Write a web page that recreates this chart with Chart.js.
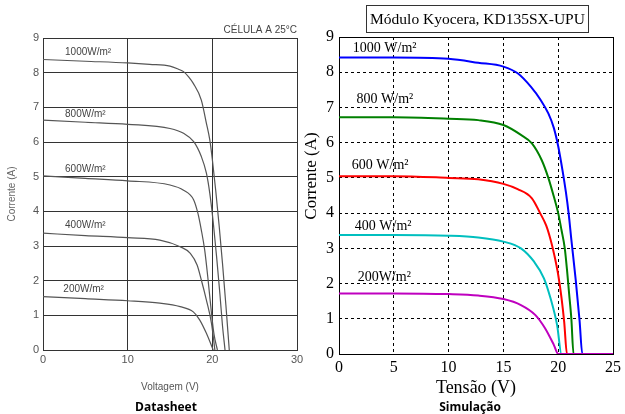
<!DOCTYPE html>
<html>
<head>
<meta charset="utf-8">
<script src="https://cdn.jsdelivr.net/npm/chart.js@4.4.0/dist/chart.umd.min.js"></script>
<style>
  body { margin: 0; background: #fff; }
  #wrap { position: relative; width: 625px; height: 414px; overflow: hidden; }
  #dsChart { position: absolute; left: 0; top: 0; }
  #simChart { position: absolute; left: 300px; top: 0; }
  .caption { position: absolute; top: 398px; font: bold 12px "Open Sans", sans-serif; color: #000; text-align: center; width: 120px; }
  #simTitle { position: absolute; left: 366px; top: 5px; width: 221px; height: 26px; border: 1px solid #333; white-space: nowrap;
              font: 15.5px "Liberation Serif", serif; line-height: 26px; text-align: center; color: #000; }
</style>
</head>
<body>
<div id="wrap">
  <canvas id="dsChart" width="312" height="414"></canvas>
  <canvas id="simChart" width="325" height="414"></canvas>
  <div id="simTitle">Módulo Kyocera, KD135SX-UPU</div>
  <div class="caption" style="left:106px">Datasheet</div>
  <div class="caption" style="left:410px">Simulação</div>
</div>
<script>
// Datasheet curves (Voltagem V, Corrente A)
const ds1000V = [0, 5, 10, 12.6, 15, 16, 16.6, 17.2, 17.75, 18.7, 19.3, 19.7, 20.0, 20.4, 20.8, 21.2, 21.6, 22.0];
const ds1000I = [8.38, 8.33, 8.28, 8.24, 8.19, 8.1, 8.03, 7.88, 7.69, 7.21, 6.54, 6.06, 5.5, 4.6, 3.6, 2.5, 1.3, 0];
const ds800V = [0, 5, 10, 15, 16.6, 17.8, 18.7, 19.3, 19.7, 20.1, 20.5, 20.9, 21.2, 21.5];
const ds800I = [6.63, 6.57, 6.51, 6.39, 6.25, 6.01, 5.58, 5.1, 4.52, 3.7, 2.7, 1.6, 0.7, 0];
const ds600V = [0, 5, 10, 15, 16.6, 17.8, 18.3, 18.7, 19.1, 19.5, 19.9, 20.2, 20.6];
const ds600I = [5.02, 4.95, 4.88, 4.76, 4.61, 4.33, 3.94, 3.46, 2.88, 2.02, 1.06, 0.45, 0];
const ds400V = [0, 5, 10, 13.8, 16.2, 17.4, 18.2, 18.7, 19.3, 19.9, 20.3];
const ds400I = [3.37, 3.3, 3.24, 3.17, 2.98, 2.79, 2.45, 2.02, 1.44, 0.77, 0];
const ds200V = [0, 5, 10, 13.8, 16.2, 17.75, 18.5, 19.3, 20.1];
const ds200I = [1.54, 1.48, 1.42, 1.35, 1.25, 1.1, 0.87, 0.48, 0];

// Simulação curves (Tensão V, Corrente A)
const sim1000V = [0, 5, 10, 12.7, 15, 16.3, 17.5, 18.4, 19.1, 19.6, 20.0, 20.4, 20.7, 20.95, 21.2, 21.6, 21.95, 22.2, 25];
const sim1000I = [8.42, 8.42, 8.38, 8.27, 8.16, 7.97, 7.59, 7.21, 6.83, 6.42, 5.9, 5.2, 4.6, 4.0, 3.25, 2.1, 0.95, 0, 0];
const sim800V = [0, 5, 10, 12.7, 15, 16.6, 17.6, 18.5, 19.1, 19.6, 20.0, 20.3, 20.6, 20.8, 21.0, 21.2, 21.4, 25];
const sim800I = [6.72, 6.72, 6.68, 6.64, 6.5, 6.22, 5.98, 5.5, 5.0, 4.47, 4.0, 3.52, 3.0, 2.4, 1.7, 1.0, 0, 0];
const sim600V = [0, 5, 10, 12.7, 15, 16.3, 17.6, 18.35, 18.9, 19.3, 19.65, 20.0, 20.3, 20.55, 20.8, 25];
const sim600I = [5.05, 5.05, 5.0, 4.96, 4.83, 4.68, 4.42, 4.0, 3.65, 3.25, 2.8, 2.25, 1.6, 0.9, 0, 0];
const sim400V = [0, 5, 10, 12.7, 15, 16.6, 17.8, 18.7, 19.3, 19.9, 20.3, 25];
const sim400I = [3.38, 3.38, 3.36, 3.31, 3.19, 3.0, 2.62, 2.15, 1.58, 0.82, 0, 0];
const sim200V = [0, 5, 10, 12.7, 15, 16.6, 17.9, 18.8, 19.6, 20.0, 25];
const sim200I = [1.72, 1.72, 1.70, 1.66, 1.56, 1.39, 1.11, 0.73, 0.26, 0, 0];

const irradLabels = ['1000', '800', '600', '400', '200'];
const simColors = ['#0000ff', '#008000', '#ff0000', '#00bfbf', '#bf00bf'];

function pts(vs, is) {
    return vs.map((v, k) => ({ x: v, y: is[k] }));
}

// desenha moldura e textos livres / rótulos das curvas
const extrasPlugin = {
    id: 'extras',
    beforeDatasetsDraw(chart, args, opts) {
        const a = chart.chartArea;
        const ctx = chart.ctx;
        ctx.save();
        ctx.strokeStyle = opts.frameColor;
        ctx.lineWidth = 1;
        ctx.strokeRect(Math.round(a.left) + 0.5, Math.round(a.top) + 0.5,
            Math.round(a.right - a.left), Math.round(a.bottom - a.top));
        ctx.restore();
    },
    afterDraw(chart, args, opts) {
        const ctx = chart.ctx;
        const xs = chart.scales.x, ys = chart.scales.y;
        ctx.save();
        ctx.textBaseline = 'middle';
        (opts.curveLabels || []).forEach(l => {
            ctx.font = opts.labelFont;
            ctx.fillStyle = opts.labelColor;
            ctx.textAlign = 'left';
            ctx.fillText(l.text, xs.getPixelForValue(l.v), ys.getPixelForValue(l.i));
        });
        (opts.texts || []).forEach(t => {
            ctx.save();
            ctx.font = t.font;
            ctx.fillStyle = t.color;
            ctx.textAlign = t.align || 'center';
            ctx.translate(t.x, t.y);
            if (t.rotate) ctx.rotate(t.rotate);
            ctx.fillText(t.text, 0, 0);
            ctx.restore();
        });
        ctx.restore();
    }
};

// Gráfico Datasheet
const dsSeries = [[ds1000V, ds1000I], [ds800V, ds800I], [ds600V, ds600I], [ds400V, ds400I], [ds200V, ds200I]];
new Chart(document.getElementById('dsChart'), {
    type: 'line',
    data: {
        datasets: dsSeries.map((s, k) => ({
            label: irradLabels[k] + 'W/m²',
            data: pts(s[0], s[1]),
            borderColor: '#555',
            borderWidth: 1.2,
            pointRadius: 0,
            cubicInterpolationMode: 'monotone'
        }))
    },
    options: {
        responsive: false,
        animation: false,
        layout: { padding: { top: 38, right: 15, left: 0, bottom: 0 } },
        plugins: {
            legend: { display: false },
            tooltip: { enabled: false },
            extras: {
                frameColor: '#333',
                labelFont: '10px "Liberation Sans", sans-serif',
                labelColor: '#444',
                curveLabels: [
                    { text: '1000W/m²', v: 2.6, i: 8.6 },
                    { text: '800W/m²', v: 2.6, i: 6.8 },
                    { text: '600W/m²', v: 2.6, i: 5.22 },
                    { text: '400W/m²', v: 2.6, i: 3.6 },
                    { text: '200W/m²', v: 2.4, i: 1.76 }
                ],
                texts: [
                    { text: 'CÉLULA A 25°C', x: 297, y: 30, align: 'right', font: '10px "Liberation Sans", sans-serif', color: '#444' }
                ]
            }
        },
        scales: {
            x: {
                type: 'linear', min: 0, max: 30,
                ticks: { stepSize: 10, color: '#555', padding: 3, maxRotation: 0, font: { family: 'Liberation Sans', size: 11 } },
                grid: { color: '#333', drawTicks: false },
                border: { display: false },
                title: { display: true, text: 'Voltagem (V)', color: '#555', font: { family: 'Liberation Sans', size: 10 }, padding: { top: 0, bottom: 21 } },
                afterFit: s => { s.height = 64; }
            },
            y: {
                type: 'linear', min: 0, max: 9,
                ticks: { stepSize: 1, color: '#555', padding: 4, font: { family: 'Liberation Sans', size: 11 } },
                grid: { color: '#333', drawTicks: false },
                border: { display: false },
                title: { display: true, text: 'Corrente (A)', color: '#666', font: { family: 'Liberation Sans', size: 10 }, padding: { top: 6, bottom: 0 } },
                afterFit: s => { s.width = 43; }
            }
        }
    },
    plugins: [extrasPlugin]
});

// Gráfico Simulação
const simSeries = [[sim1000V, sim1000I], [sim800V, sim800I], [sim600V, sim600I], [sim400V, sim400I], [sim200V, sim200I]];
new Chart(document.getElementById('simChart'), {
    type: 'line',
    data: {
        datasets: simSeries.map((s, k) => ({
            label: irradLabels[k] + ' W/m²',
            data: pts(s[0], s[1]),
            borderColor: simColors[k],
            borderWidth: 2,
            pointRadius: 0,
            order: 4 - k,
            cubicInterpolationMode: 'monotone'
        }))
    },
    options: {
        responsive: false,
        animation: false,
        layout: { padding: { top: 37, right: 8, left: 0, bottom: 0 } },
        plugins: {
            legend: { display: false },
            tooltip: { enabled: false },
            extras: {
                frameColor: '#000',
                labelFont: '14px "Liberation Serif", serif',
                labelColor: '#000',
                curveLabels: [
                    { text: '1000 W/m²', v: 1.26, i: 8.69 },
                    { text: '800 W/m²', v: 1.6, i: 7.24 },
                    { text: '600 W/m²', v: 1.17, i: 5.37 },
                    { text: '400 W/m²', v: 1.44, i: 3.63 },
                    { text: '200W/m²', v: 1.7, i: 2.19 }
                ],
                texts: [
                    { text: 'Corrente (A)', x: 12, y: 176, rotate: -Math.PI / 2, font: '17px "Liberation Serif", serif', color: '#000' }
                ]
            }
        },
        scales: {
            x: {
                type: 'linear', min: 0, max: 25,
                ticks: { stepSize: 5, color: '#000', padding: 4, maxRotation: 0, font: { family: 'Liberation Serif', size: 16 } },
                grid: { color: '#000', drawTicks: false },
                border: { display: false, dash: [3, 3] },
                title: { display: true, text: 'Tensão (V)', color: '#000', font: { family: 'Liberation Serif', size: 18 }, padding: { top: 0, bottom: 15 } },
                afterFit: s => { s.height = 60; }
            },
            y: {
                type: 'linear', min: 0, max: 9,
                ticks: { stepSize: 1, color: '#000', padding: 5, font: { family: 'Liberation Serif', size: 16 } },
                grid: { color: '#000', drawTicks: false },
                border: { display: false, dash: [3, 3] },
                afterFit: s => { s.width = 39; }
            }
        }
    },
    plugins: [extrasPlugin]
});
</script>
</body>
</html>
